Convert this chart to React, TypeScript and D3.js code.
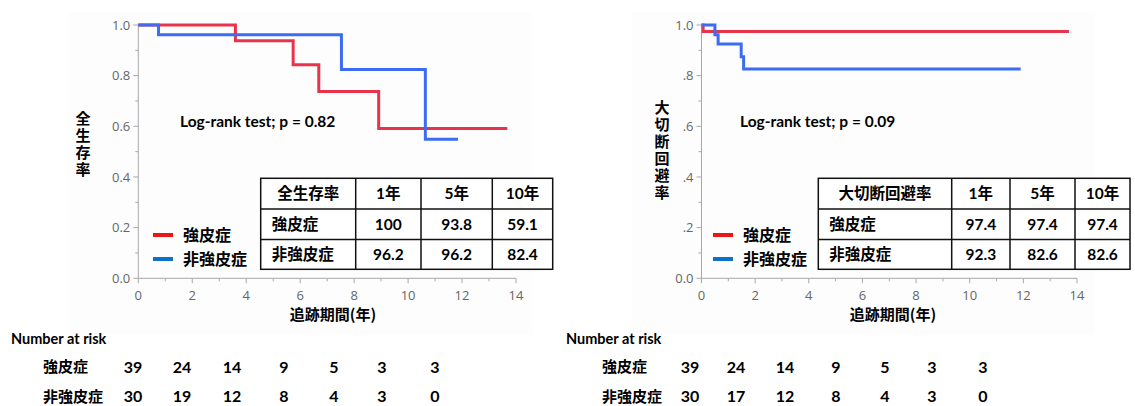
import React, { useEffect, useRef } from 'react';
import * as d3 from 'd3';

// survival curves (time in years, survival proportion)
const osSclTimes = [0, 3.6, 5.74, 6.69, 8.91, 13.68];
const osSclValues = [1, 0.938, 0.843, 0.737, 0.591, 0.591];
const osNonTimes = [0, 0.75, 7.53, 10.64, 11.85];
const osNonValues = [1, 0.962, 0.824, 0.549, 0.549];

const ampSclTimes = [0, 0.06, 13.7];
const ampSclValues = [1, 0.974, 0.974];
const ampNonTimes = [0, 0.5, 0.62, 1.48, 1.57, 11.9];
const ampNonValues = [1, 0.962, 0.925, 0.875, 0.826, 0.826];

const groups = ['強皮症', '非強皮症'];
const tableCols = ['1年', '5年', '10年'];
const osTable = [['100', '93.8', '59.1'], ['96.2', '96.2', '82.4']];
const ampTable = [['97.4', '97.4', '97.4'], ['92.3', '82.6', '82.6']];

const osRisk = [[39, 24, 14, 9, 5, 3, 3], [30, 19, 12, 8, 4, 3, 0]];
const ampRisk = [[39, 24, 14, 9, 5, 3, 3], [30, 17, 12, 8, 4, 3, 0]];

const xTicks = [0, 2, 4, 6, 8, 10, 12, 14];
const yTicks = [0, 0.2, 0.4, 0.6, 0.8, 1.0];

const RED = '#e8334a';
const BLUE = '#3b6cf2';
const LAT = 'Lato, "Noto Sans CJK JP", sans-serif';
const JP = '"Noto Sans CJK JP", sans-serif';

function drawPanel(svg, p) {
  const x = d3.scaleLinear().domain([0, 14]).range([p.x0, p.x1]);
  const y = d3.scaleLinear().domain([0, 1]).range([278.3, 25]);
  const g = svg.append('g');

  g.append('rect').attr('x', p.bg[0]).attr('y', 12).attr('width', p.bg[1] - p.bg[0]).attr('height', 323)
    .attr('fill', '#fdfdfd');

  // axes
  const ax = g.append('g').attr('stroke', '#a8a8a8').attr('stroke-width', 1);
  ax.append('line').attr('x1', p.x0).attr('x2', p.x0).attr('y1', y(1)).attr('y2', y(0));
  ax.append('line').attr('x1', p.x0).attr('x2', x(14)).attr('y1', y(0)).attr('y2', y(0));
  d3.range(0, 1.001, 0.1).forEach((v, i) => {
    const l = i % 2 === 0 ? 5 : 3;
    ax.append('line').attr('x1', p.x0 - l).attr('x2', p.x0).attr('y1', y(v)).attr('y2', y(v));
  });
  d3.range(0, 15).forEach((v) => {
    const l = v % 2 === 0 ? 5 : 3;
    ax.append('line').attr('x1', x(v)).attr('x2', x(v)).attr('y1', y(0)).attr('y2', y(0) + l);
  });

  g.selectAll('.yt').data(yTicks).enter().append('text')
    .attr('x', p.x0 - 8).attr('y', (d) => y(d)).attr('dy', '0.35em')
    .attr('text-anchor', 'end').attr('fill', '#666').attr('font-size', 13).attr('font-family', '"Open Sans", sans-serif')
    .text(p.yFmt);
  g.selectAll('.xt').data(xTicks).enter().append('text')
    .attr('x', (d) => x(d)).attr('y', y(0) + 17).attr('dy', '0.35em')
    .attr('text-anchor', 'middle').attr('fill', '#666').attr('font-size', 13).attr('font-family', '"Open Sans", sans-serif')
    .text((d) => d);

  // axis titles
  g.append('text').attr('x', p.xTitle).attr('y', 320).attr('text-anchor', 'middle')
    .attr('font-family', JP).attr('font-weight', 'bold').attr('font-size', 15).text('追跡期間(年)');
  g.append('text').attr('x', p.yTitleX).attr('y', p.yTitleY)
    .style('writing-mode', 'vertical-rl').attr('letter-spacing', 2)
    .attr('font-family', JP).attr('font-weight', 'bold').attr('font-size', 15).text(p.yTitle);

  // curves
  const line = d3.line().x((d) => x(d[0])).y((d) => y(d[1])).curve(d3.curveStepAfter);
  p.curves.forEach((c) => {
    g.append('path').attr('d', line(d3.zip(c.t, c.v))).attr('fill', 'none')
      .attr('stroke', c.color).attr('stroke-width', 3);
  });

  g.append('text').attr('x', p.lrX).attr('y', 127).attr('font-family', LAT).attr('font-weight', 'bold')
    .attr('font-size', 15.5).text(p.lr);

  // legend
  [['#f01414', 0], ['#0a72c8', 1]].forEach(([col, i]) => {
    const ly = 235 + i * 24;
    g.append('line').attr('x1', p.legX).attr('x2', p.legX + 20).attr('y1', ly).attr('y2', ly)
      .attr('stroke', col).attr('stroke-width', 4);
    g.append('text').attr('x', p.legX + 30).attr('y', ly).attr('dy', '0.38em').attr('font-family', JP)
      .attr('font-weight', 'bold').attr('font-size', 16).text(groups[i]);
  });

  // summary table
  const rows = [178.3, 209, 239.5, 269.3];
  const cols = p.tCols;
  const t = g.append('g');
  t.append('rect').attr('x', cols[0]).attr('y', rows[0]).attr('width', cols[4] - cols[0]).attr('height', rows[3] - rows[0])
    .attr('fill', '#fff').attr('stroke', '#111').attr('stroke-width', 1.5);
  rows.slice(1, 3).forEach((r) => t.append('line').attr('x1', cols[0]).attr('x2', cols[4]).attr('y1', r).attr('y2', r)
    .attr('stroke', '#111').attr('stroke-width', 1.5));
  cols.slice(1, 4).forEach((c) => t.append('line').attr('x1', c).attr('x2', c).attr('y1', rows[0]).attr('y2', rows[3])
    .attr('stroke', '#111').attr('stroke-width', 1.5));
  const cell = (cx, ri, txt, anchor) => t.append('text').attr('x', cx).attr('y', (rows[ri] + rows[ri + 1]) / 2)
    .attr('dy', '0.36em').attr('text-anchor', anchor).attr('font-family', LAT).attr('font-weight', 'bold')
    .attr('font-size', 15.5).text(txt);
  cell((cols[0] + cols[1]) / 2, 0, p.tTitle, 'middle');
  tableCols.forEach((c, j) => cell((cols[j + 1] + cols[j + 2]) / 2, 0, c, 'middle'));
  p.table.forEach((row, i) => {
    cell(cols[0] + 11, i + 1, groups[i], 'start');
    row.forEach((v, j) => cell((cols[j + 1] + cols[j + 2]) / 2, i + 1, v, 'middle'));
  });

  // number at risk
  g.append('text').attr('x', p.nrX).attr('y', 339).attr('dy', '0.35em').attr('font-family', LAT)
    .attr('font-weight', 'bold').attr('font-size', 14.5).text('Number at risk');
  p.risk.forEach((row, i) => {
    const ry = 367 + i * 29.5;
    g.append('text').attr('x', p.nrLabelX).attr('y', ry).attr('dy', '0.36em').attr('font-family', JP)
      .attr('font-weight', 'bold').attr('font-size', 15).text(groups[i]);
    row.forEach((n, j) => {
      g.append('text').attr('x', p.riskXs[j]).attr('y', ry).attr('dy', '0.36em').attr('text-anchor', 'middle')
        .attr('font-family', LAT).attr('font-weight', 'bold').attr('font-size', 16).text(n);
    });
  });
}

function App() {
  const ref = useRef();

  useEffect(() => {
    const svg = d3.select(ref.current);
    drawPanel(svg, {
      x0: 138.3, x1: 516, bg: [68, 533],
      yFmt: (d) => d.toFixed(1),
      xTitle: 333, yTitle: '全生存率', yTitleX: 83, yTitleY: 111,
      curves: [{ t: osSclTimes, v: osSclValues, color: RED }, { t: osNonTimes, v: osNonValues, color: BLUE }],
      lr: 'Log-rank test; p = 0.82', lrX: 180, legX: 153,
      tCols: [260.7, 355.7, 421, 492.3, 552.7], tTitle: '全生存率', table: osTable,
      nrX: 11, nrLabelX: 43, risk: osRisk, riskXs: [133, 182, 232, 284, 334, 382, 435],
    });
    drawPanel(svg, {
      x0: 701.5, x1: 1077, bg: [632, 1095],
      yFmt: (d) => (d === 0 || d === 1 ? d.toFixed(1) : d3.format('.1f')(d).replace(/^0/, '')),
      xTitle: 893, yTitle: '大切断回避率', yTitleX: 662, yTitleY: 100,
      curves: [{ t: ampSclTimes, v: ampSclValues, color: RED }, { t: ampNonTimes, v: ampNonValues, color: BLUE }],
      lr: 'Log-rank test; p = 0.09', lrX: 740, legX: 713,
      tCols: [818.3, 951.7, 1010, 1075, 1130], tTitle: '大切断回避率', table: ampTable,
      nrX: 566, nrLabelX: 602, risk: ampRisk, riskXs: [690, 736, 785, 836, 885, 932, 983],
    });
    return () => {
      d3.select(ref.current).selectAll('*').remove();
    };
  }, []);

  return (
    <svg ref={ref} width={1135} height={406}
      style={{ position: 'absolute', left: 0, top: 0, background: '#fff' }}></svg>
  );
}

export default App;
